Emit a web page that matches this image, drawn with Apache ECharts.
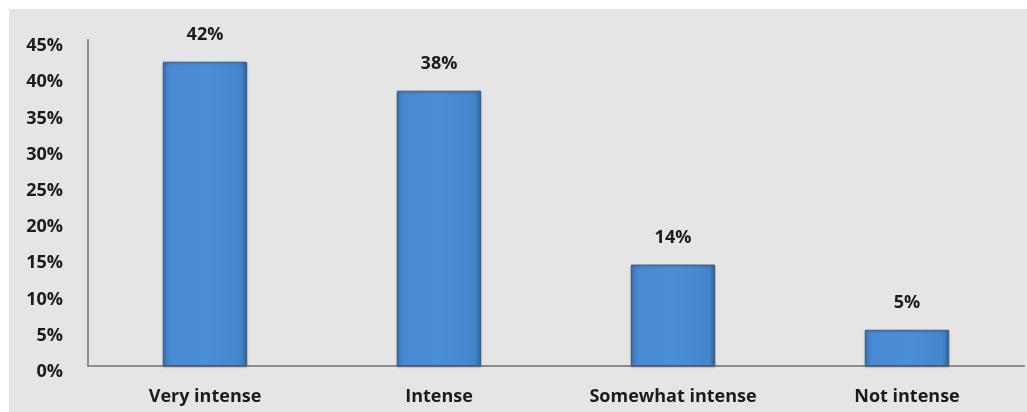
<!DOCTYPE html>
<html>
<head>
<meta charset="utf-8">
<script src="https://cdn.jsdelivr.net/npm/echarts@6/dist/echarts.min.js"></script>
<style>
  html, body { margin: 0; padding: 0; background: #ffffff; }
  #chart { position: absolute; left: 9px; top: 9px; width: 1018px; height: 403px; background: #e5e5e5; }
</style>
</head>
<body>
<div id="chart"></div>
<script>
// Intensity ratings, share of respondents (%)
const categories = ['Very intense', 'Intense', 'Somewhat intense', 'Not intense'];
const shares = [42, 38, 14, 5];
const yTicks = { min: 0, max: 45, step: 5 };

const font = '"Open Sans", Lato, sans-serif';
const textColor = '#1c1c1c';
const chart = echarts.init(document.getElementById('chart'));

chart.setOption({
  backgroundColor: '#e5e5e5',
  animation: false,
  grid: { left: 79, right: 3, top: 31, bottom: 46 },
  xAxis: {
    type: 'category',
    data: categories,
    axisLine: { lineStyle: { color: '#8c8c8c', width: 2 } },
    axisTick: { show: false },
    axisLabel: { color: textColor, fontFamily: font, fontWeight: 'bold', fontSize: 18, margin: 22 }
  },
  yAxis: {
    type: 'value',
    min: yTicks.min,
    max: yTicks.max,
    interval: yTicks.step,
    axisLine: { show: true, lineStyle: { color: '#8c8c8c', width: 2 } },
    axisTick: { show: false },
    splitLine: { show: false },
    axisLabel: {
      color: textColor, fontFamily: font, fontWeight: 'bold', fontSize: 18,
      margin: 25, verticalAlign: 'top', lineHeight: 12, formatter: '{value}%'
    }
  },
  series: [{
    type: 'bar',
    data: shares,
    barWidth: '36%',
    itemStyle: {
      color: new echarts.graphic.LinearGradient(0, 0, 1, 0, [
        { offset: 0, color: '#3a74b6' },
        { offset: 0.08, color: '#4889d3' },
        { offset: 0.5, color: '#4b8ed8' },
        { offset: 0.92, color: '#4585cd' },
        { offset: 1, color: '#33679c' }
      ]),
      borderColor: '#3a5f88',
      borderWidth: 1,
      shadowColor: 'rgba(0,0,0,0.25)',
      shadowBlur: 2,
      shadowOffsetY: 1
    },
    label: {
      show: true,
      position: 'top',
      distance: 18,
      color: textColor,
      fontFamily: font,
      fontWeight: 'bold',
      fontSize: 18,
      formatter: p => p.value + '%'
    }
  }]
});
</script>
</body>
</html>
